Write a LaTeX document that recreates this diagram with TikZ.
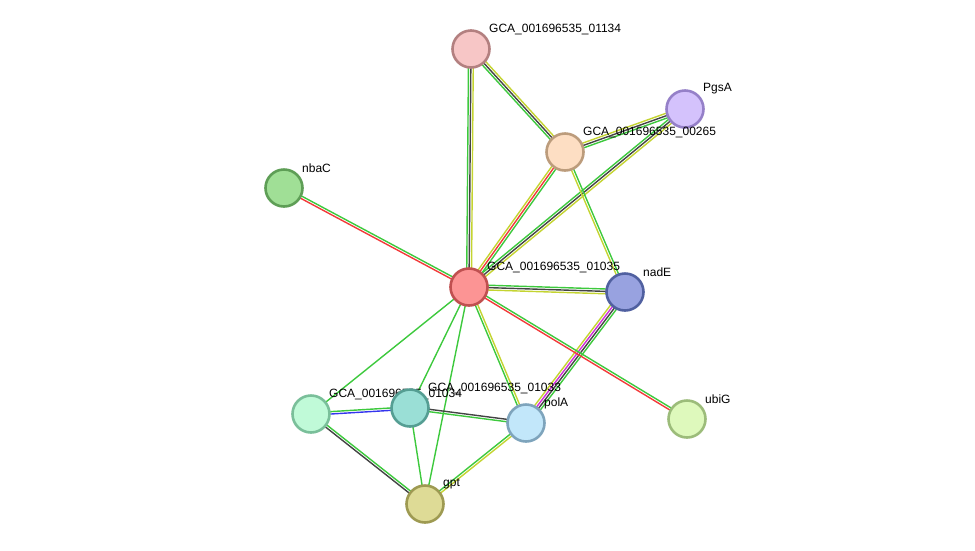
\documentclass[tikz,border=0pt]{standalone}
\usepackage{fontspec}
\setmainfont{Liberation Sans}
\usetikzlibrary{calc}
\pgfdeclarelayer{background}
\pgfsetlayers{background,main}
\definecolor{eG}{HTML}{3DC93D}
\definecolor{eY}{HTML}{C4D431}
\definecolor{eK}{HTML}{444444}
\definecolor{eR}{HTML}{F23A3A}
\definecolor{eM}{HTML}{D030D8}
\definecolor{eB}{HTML}{3535EE}
\newcommand{\ed}[3]{\foreach \c/\o in {#3}{\draw[\c,line width=1.4pt] ($(#1)!\o!90:(#2)$) -- ($(#2)!\o!-90:(#1)$);}}
\newcommand{\prot}[6]{%
  \definecolor{f#1}{HTML}{#4}\definecolor{b#1}{HTML}{#5}%
  \node[prot,fill=f#1,draw=b#1] (#1) at (#2,#3) {};
  \node[lab] (l#1) at ($(#1)+(18,-20)$) {#6};}
\tikzset{
  prot/.style={circle,minimum size=37pt,inner sep=0pt,line width=2.6pt},
  lab/.style={anchor=west,inner sep=0pt,font=\fontsize{12pt}{14pt}\selectfont}
}
\begin{document}
\begin{tikzpicture}[x=1pt,y=-1pt]
\useasboundingbox (0,0) rectangle (975,550);
\prot{n01134}{471}{49}{F7C6C6}{B38080}{GCA\_001696535\_01134}
\prot{pgsA}{685}{109}{D4C2FC}{9580C8}{PgsA}
\prot{n00265}{565}{152}{FDDEC3}{BC9C7C}{GCA\_001696535\_00265}
\prot{nbaC}{284}{188}{A0DF96}{5E9E56}{nbaC}
\prot{n01035}{469}{287}{FC9494}{C05050}{GCA\_001696535\_01035}
\prot{nadE}{625}{292}{98A2E0}{5060A0}{nadE}
\prot{n01034}{311}{414}{C0FAD8}{7ABF9A}{GCA\_001696535\_01034}
\prot{n01033}{410}{408}{9ADFD6}{559E93}{GCA\_001696535\_01033}
\prot{polA}{526}{423}{C2E7FA}{7EA4BC}{polA}
\prot{ubiG}{687}{419}{DEF9BC}{9CBC7A}{ubiG}
\prot{gpt}{425}{504}{DEDB96}{9E9A52}{gpt}
\begin{pgfonlayer}{background}
\ed{n01134}{n01035}{eG/-2.4pt,eK/0pt,eY/2.4pt}
\ed{n01134}{n00265}{eG/-2.4pt,eK/0pt,eY/2.4pt}
\ed{n00265}{pgsA}{eG/-2.4pt,eK/0pt,eY/2.4pt}
\ed{pgsA}{n01035}{eG/-2.4pt,eK/0pt,eY/2.4pt}
\ed{n00265}{n01035}{eY/-2.4pt,eR/0pt,eG/2.4pt}
\ed{n00265}{nadE}{eY/-1.2pt,eG/1.2pt}
\ed{n01035}{nadE}{eY/-2.4pt,eK/0pt,eG/2.4pt}
\ed{nadE}{polA}{eY/-3.6pt,eM/-1.2pt,eK/1.2pt,eG/3.6pt}
\ed{nbaC}{n01035}{eR/-1.2pt,eG/1.2pt}
\ed{n01035}{ubiG}{eR/-1.2pt,eG/1.2pt}
\ed{n01035}{polA}{eG/-1.2pt,eY/1.2pt}
\ed{n01035}{n01033}{eG/0pt}
\ed{n01035}{n01034}{eG/0pt}
\ed{n01035}{gpt}{eG/0pt}
\ed{n01034}{n01033}{eB/-1.2pt,eG/1.2pt}
\ed{n01033}{polA}{eG/-1.2pt,eK/1.2pt}
\ed{n01034}{gpt}{eK/-1.2pt,eG/1.2pt}
\ed{n01033}{gpt}{eG/0pt}
\ed{polA}{gpt}{eG/-1.2pt,eY/1.2pt}
\end{pgfonlayer}
\end{tikzpicture}
\end{document}
